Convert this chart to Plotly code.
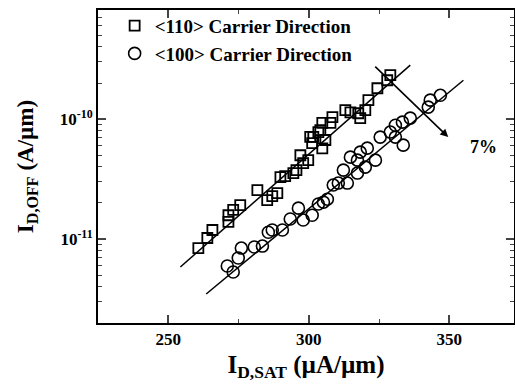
import plotly.graph_objects as go
import numpy as np

# <110> carrier direction (squares)
sq_x = [260.7, 263.9, 265.7, 271.4, 271.4, 273.1, 275.6, 281.7, 285.2, 287.0,
        288.8, 289.9, 291.6, 294.5, 295.6, 297.0, 298.0, 299.8, 300.5, 301.2,
        301.6, 303.4, 304.1, 304.8, 304.8, 305.9, 307.7, 308.4, 313.0, 314.8,
        317.6, 318.3, 320.1, 321.2, 324.4, 327.9, 329.0]
sq_y = [8.4e-12, 1.02e-11, 1.19e-11, 1.39e-11, 1.58e-11, 1.75e-11, 1.92e-11, 2.56e-11, 2.11e-11, 2.28e-11,
        2.42e-11, 3.29e-11, 3.35e-11, 3.55e-11, 3.76e-11, 5.0e-11, 4.3e-11, 4.55e-11, 7.1e-11, 6.3e-11,
        7.1e-11, 7.8e-11, 8.1e-11, 9.3e-11, 5.7e-11, 6.7e-11, 9.3e-11, 1.04e-10, 1.19e-10, 1.14e-10,
        1.12e-10, 1.02e-10, 1.19e-10, 1.44e-10, 1.81e-10, 2.11e-10, 2.33e-10]

# <100> carrier direction (circles)
ci_x = [271.0, 273.1, 274.9, 276.0, 280.6, 283.5, 285.6, 287.0, 290.6, 293.4,
        296.3, 298.0, 301.2, 303.4, 305.2, 306.6, 308.7, 310.5, 312.3, 313.7,
        314.8, 317.3, 317.3, 318.3, 320.1, 320.8, 323.7, 325.4, 329.0, 330.8,
        330.8, 333.3, 333.6, 336.1, 342.5, 343.2, 346.8]
ci_y = [5.96e-12, 5.31e-12, 6.95e-12, 8.41e-12, 8.58e-12, 8.74e-12, 1.14e-11, 1.19e-11, 1.19e-11, 1.47e-11,
        1.81e-11, 1.44e-11, 1.58e-11, 1.96e-11, 2.03e-11, 2.15e-11, 2.82e-11, 2.93e-11, 3.76e-11, 2.93e-11,
        4.82e-11, 4.55e-11, 3.55e-11, 5.31e-11, 3.98e-11, 5.73e-11, 4.55e-11, 7.08e-11, 7.8e-11, 8.9e-11,
        7.08e-11, 9.44e-11, 6.07e-11, 1.02e-10, 1.26e-10, 1.44e-10, 1.58e-10]

# fitted lines (end points)
fit_sq_x = [254.3, 336.1]
fit_sq_y = [5.85e-12, 2.82e-10]
fit_ci_x = [263.5, 355.0]
fit_ci_y = [3.48e-12, 2.11e-10]

# arrow (tail -> head) and label
arrow_x = [323.1, 349.6]
arrow_y = [2.82e-10, 7.08e-11]
label_x, label_y, label_text = 362.1, 5.84e-11, "7%"

y_major = [1e-11, 1e-10]
y_major_text = ["10<sup>-11</sup>", "10<sup>-10</sup>"]
y_minor = [m * 10.0**e for e in (-12, -11, -10) for m in range(2, 10) if m * 10.0**e < 8.2e-10]

FONT = "Liberation Serif"

fig = go.Figure()
fig.add_trace(go.Scatter(x=fit_sq_x, y=fit_sq_y, mode="lines",
                         line=dict(color="black", width=1.5), showlegend=False))
fig.add_trace(go.Scatter(x=fit_ci_x, y=fit_ci_y, mode="lines",
                         line=dict(color="black", width=1.5), showlegend=False))
fig.add_trace(go.Scatter(x=sq_x, y=sq_y, mode="markers", name="&lt;110&gt; Carrier Direction",
                         marker=dict(symbol="square-open", size=10, color="black",
                                     line=dict(width=1.8, color="black"))))
fig.add_trace(go.Scatter(x=ci_x, y=ci_y, mode="markers", name="&lt;100&gt; Carrier Direction",
                         marker=dict(symbol="circle-open", size=12, color="black",
                                     line=dict(width=1.6, color="black"))))

fig.add_annotation(x=arrow_x[1], y=np.log10(arrow_y[1]), ax=arrow_x[0], ay=np.log10(arrow_y[0]),
                   xref="x", yref="y", axref="x", ayref="y", showarrow=True, text="",
                   arrowhead=2, arrowsize=1.0, arrowwidth=1.6, arrowcolor="black")
fig.add_annotation(x=label_x, y=np.log10(label_y), xref="x", yref="y", text=label_text,
                   showarrow=False, font=dict(family=FONT, size=18, color="black", weight="bold"))

fig.update_layout(
    width=515, height=387,
    margin=dict(l=98, r=1, t=10, b=64),
    paper_bgcolor="white", plot_bgcolor="white",
    showlegend=True,
    legend=dict(x=0.04, y=1.01, xanchor="left", yanchor="top", bgcolor="rgba(0,0,0,0)",
                font=dict(family=FONT, size=19, color="black", weight="bold"),
                tracegroupgap=0, itemwidth=30),
    xaxis=dict(range=[225, 373], tickvals=[250, 300, 350], ticks="inside", ticklen=8, tickwidth=1.5,
               showline=True, linecolor="black", linewidth=2, mirror="ticks", showgrid=False, zeroline=False,
               automargin=False,
               tickfont=dict(family=FONT, size=17, color="black", weight="bold"),
               minor=dict(tickvals=[275, 325], ticks="inside", ticklen=4, tickwidth=1.2, showgrid=False),
               title=dict(text="I<sub>D,SAT</sub> (µA/µm)", standoff=7,
                          font=dict(family=FONT, size=25, color="black", weight="bold"))),
    yaxis=dict(type="log", range=[-11.7, -9.09], tickvals=y_major, ticktext=y_major_text,
               ticks="inside", ticklen=8, tickwidth=1.5,
               showline=True, linecolor="black", linewidth=2, mirror="ticks", showgrid=False, zeroline=False,
               automargin=False,
               tickfont=dict(family=FONT, size=17, color="black", weight="bold"),
               minor=dict(tickvals=y_minor, ticks="inside", ticklen=4, tickwidth=1.2, showgrid=False),
               title=dict(text="I<sub>D,OFF</sub> (A/µm)", standoff=20,
                          font=dict(family=FONT, size=23, color="black", weight="bold"))),
)

fig.write_html("out.html", config={"displayModeBar": False},
               post_script="document.body.style.margin='0px';document.body.style.overflow='hidden';")
